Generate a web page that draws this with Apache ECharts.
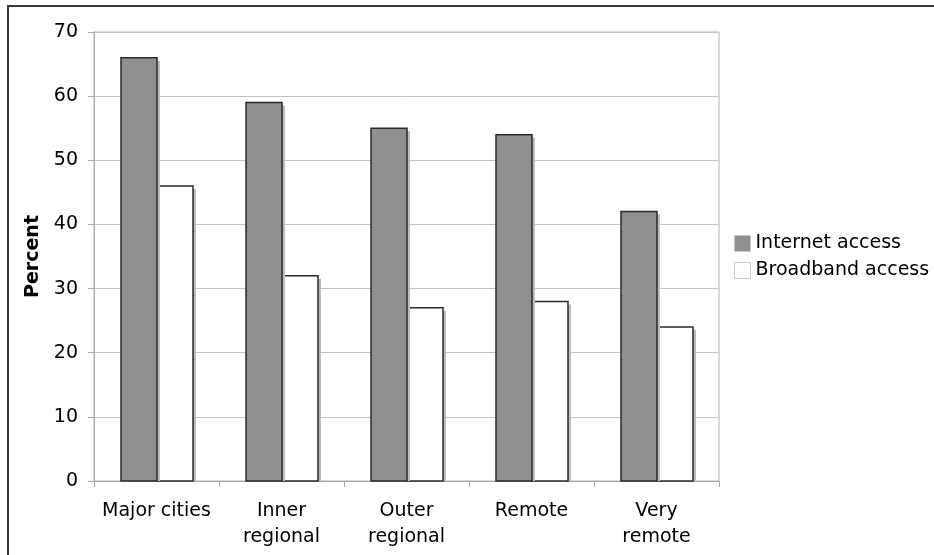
<!DOCTYPE html>
<html>
<head>
<meta charset="utf-8">
<script src="https://cdn.jsdelivr.net/npm/echarts@6/dist/echarts.min.js"></script>
<style>
  html, body { margin: 0; padding: 0; background: #fff; }
  #chart { width: 934px; height: 555px; }
</style>
</head>
<body>
<div id="chart"></div>
<script>
// Access to the internet by remoteness of area (percent)
const categories = ['Major cities', 'Inner\nregional', 'Outer\nregional', 'Remote', 'Very\nremote'];
const internetAccess = [66, 59, 55, 54, 42];
const broadbandAccess = [46, 32, 27, 28, 24];
const seriesNames = ['Internet access', 'Broadband access'];
const yAxisName = 'Percent';

const FONT = 'DejaVu Sans';
const chart = echarts.init(document.getElementById('chart'), null, { renderer: 'canvas' });

// Bars with a flat drop shadow; slot 0 sits left of the category centre, slot 1 right of it.
function makeBarRenderer(slot, fill) {
  return function (params, api) {
    const cat = api.value(0);
    const val = api.value(1);
    const top = api.coord([cat, val]);
    const base = api.coord([cat, 0]);
    const bandWidth = api.size([1, 0])[0];
    const barW = Math.round(bandWidth * 0.29);
    const x = Math.round(top[0] - barW + slot * barW);
    const y = top[1];
    const h = base[1] - top[1];
    return {
      type: 'group',
      children: [
        {
          type: 'rect',
          shape: { x: x + 3, y: y + 3, width: barW, height: h - 3 },
          style: { fill: '#bcbcbc' },
          silent: true
        },
        {
          type: 'rect',
          shape: { x: x, y: y, width: barW, height: h },
          style: { fill: fill, stroke: '#2a2a2a', lineWidth: 1.5 }
        }
      ]
    };
  };
}

chart.setOption({
  animation: false,
  backgroundColor: '#ffffff',
  textStyle: { fontFamily: FONT, color: '#000' },
  graphic: [
    {
      type: 'polyline',
      silent: true,
      shape: { points: [[8, 555], [8, 6], [934, 6]] },
      style: { stroke: '#3a3a3a', lineWidth: 2, fill: null }
    }
  ],
  grid: {
    left: 94, top: 32, right: 215, bottom: 74,
    show: true,
    borderColor: '#b4b4b4',
    borderWidth: 1,
    containLabel: false
  },
  legend: {
    orient: 'vertical',
    left: 734,
    top: 234,
    padding: 0,
    itemWidth: 16,
    itemHeight: 16,
    itemGap: 8,
    icon: 'rect',
    textStyle: { fontFamily: FONT, fontSize: 19, color: '#000', padding: [0, 0, 0, 0] },
    data: [
      { name: seriesNames[0], itemStyle: { color: '#8f8f8f', borderWidth: 0 } },
      { name: seriesNames[1], itemStyle: { color: '#ffffff', borderColor: '#c8c8c8', borderWidth: 1 } }
    ]
  },
  xAxis: {
    type: 'category',
    data: categories,
    axisLine: { show: true, lineStyle: { color: '#a8a8a8', width: 1 } },
    axisTick: { show: true, length: 6, alignWithLabel: false, lineStyle: { color: '#a8a8a8' } },
    axisLabel: {
      fontFamily: FONT, fontSize: 19, color: '#000',
      lineHeight: 26, margin: 17, interval: 0
    },
    splitLine: { show: false }
  },
  yAxis: {
    type: 'value',
    min: 0, max: 70, interval: 10,
    name: yAxisName,
    nameLocation: 'middle',
    nameGap: 49,
    nameRotate: 90,
    nameTextStyle: { fontFamily: FONT, fontSize: 19, fontWeight: 'bold', color: '#000' },
    axisLine: { show: true, lineStyle: { color: '#a8a8a8', width: 1 } },
    axisTick: { show: true, length: 6, lineStyle: { color: '#a8a8a8' } },
    axisLabel: { fontFamily: FONT, fontSize: 19, color: '#000', margin: 16 },
    splitLine: { show: true, lineStyle: { color: '#c4c4c4', width: 1 } }
  },
  series: [
    {
      name: seriesNames[0],
      type: 'custom',
      renderItem: makeBarRenderer(0, '#8f8f8f'),
      encode: { x: 0, y: 1 },
      itemStyle: { color: '#8f8f8f' },
      data: internetAccess.map((v, i) => [i, v]),
      z: 3
    },
    {
      name: seriesNames[1],
      type: 'custom',
      renderItem: makeBarRenderer(1, '#ffffff'),
      encode: { x: 0, y: 1 },
      itemStyle: { color: '#ffffff' },
      data: broadbandAccess.map((v, i) => [i, v]),
      z: 2
    }
  ]
});
</script>
</body>
</html>
